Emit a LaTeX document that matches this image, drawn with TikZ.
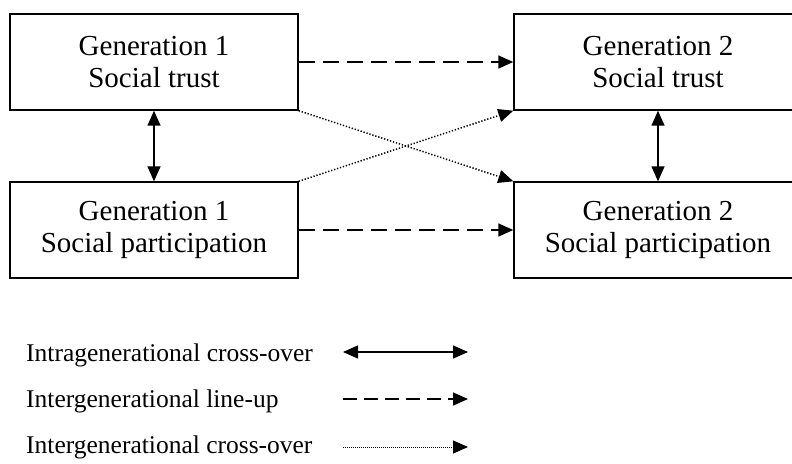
\documentclass[tikz,border=0pt]{standalone}
\usepackage{fontspec}
\setmainfont{Liberation Serif}
\usetikzlibrary{arrows.meta}

\tikzset{
  genbox/.style={draw, line width=1.4pt, minimum width=288pt, minimum height=96pt, align=center, inner sep=0pt, font=\fontsize{29}{32}\selectfont},
  legtext/.style={anchor=west, inner sep=0pt, font=\fontsize{25.5}{28}\selectfont},
  tip/.style={-{Triangle[length=15pt,width=13pt]}},
  crossover/.style={{Triangle[length=15pt,width=13pt]}-{Triangle[length=15pt,width=13pt]}, line width=1.5pt},
  lineup/.style={tip, line width=1.5pt, dash pattern=on 16pt off 8pt},
  intercross/.style={tip, line width=1.5pt, dash pattern=on 1.3pt off 1.8pt}
}

\begin{document}
\begin{tikzpicture}[x=1pt,y=-1pt]
\useasboundingbox (0,0) rectangle (792,463);
\node[genbox] (g1trust) at (154,62) {Generation 1\\Social trust};
\node[genbox] (g1part) at (154,230) {Generation 1\\Social participation};
\node[genbox] (g2trust) at (658,62) {Generation 2\\Social trust};
\node[genbox] (g2part) at (658,230) {Generation 2\\Social participation};

\draw[crossover] (g1trust.south) -- (g1part.north);
\draw[crossover] (g2trust.south) -- (g2part.north);
\draw[lineup] (g1trust.east) -- (g2trust.west);
\draw[lineup] (g1part.east) -- (g2part.west);
\draw[intercross] (g1trust.south east) -- (g2part.north west);
\draw[intercross] (g1part.north east) -- (g2trust.south west);

% legend
\node[legtext] (leg1) at (26,355) {Intragenerational cross-over};
\node[legtext] (leg2) at (26,401) {Intergenerational line-up};
\node[legtext] (leg3) at (26,447) {Intergenerational cross-over};
\coordinate (k1a) at (343,352); \coordinate (k1b) at (468,352);
\coordinate (k2a) at (343,399); \coordinate (k2b) at (468,399);
\coordinate (k3a) at (343,447); \coordinate (k3b) at (468,447);
\draw[crossover] (k1a) -- (k1b);
\draw[tip, line width=1.5pt, dash pattern=on 14pt off 7pt] (k2a) -- (k2b);
\draw[tip, line width=1pt, dash pattern=on 1pt off 1pt] (k3a) -- (k3b);
\end{tikzpicture}
\end{document}
